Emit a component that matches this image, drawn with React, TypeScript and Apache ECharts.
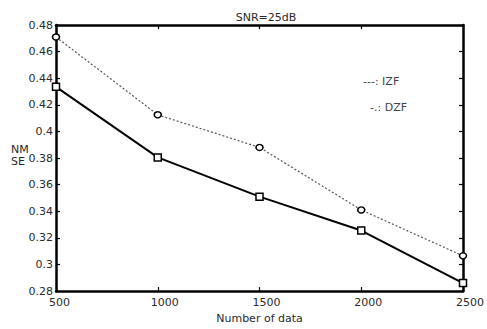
import React, { useEffect, useRef } from "react";
import * as echarts from "echarts";

const xValues = [500, 1000, 1500, 2000, 2500];
const izf = [0.471, 0.4125, 0.388, 0.341, 0.3065];
const dzf = [0.4335, 0.3805, 0.351, 0.3255, 0.286];
const titleText = "SNR=25dB";
const xName = "Number of data";
const yName = "NM\nSE";
const legendLines = ["---: IZF", "-.: DZF"];

const FONT = "DejaVu Sans";
const TXT = "#2a2a2a";

export default function App() {
  const ref = useRef<HTMLDivElement>(null);
  useEffect(() => {
    if (!ref.current) return;
    const chart = echarts.init(ref.current, undefined, { renderer: "svg" });
    const axisLine = { show: true, lineStyle: { color: "#000", width: 2.5 } };
    const tick = { show: true, inside: true, length: 4, lineStyle: { color: "#000", width: 1.2 } };
    chart.setOption({
      animation: false,
      backgroundColor: "#fff",
      title: {
        text: titleText,
        left: 261,
        top: 7,
        textAlign: "center",
        textStyle: { fontFamily: FONT, fontSize: 11, fontWeight: "normal", color: TXT },
      },
      grid: { left: 56, right: 21, top: 25, bottom: 33 },
      xAxis: [
        {
          type: "value",
          min: 500,
          max: 2500,
          interval: 500,
          position: "bottom",
          axisLine,
          axisTick: tick,
          splitLine: { show: false },
          axisLabel: {
            fontFamily: FONT,
            fontSize: 11,
            color: TXT,
            margin: 6,
            align: "left",
            padding: [0, 0, 0, -7],
            formatter: (v: number) => String(v),
          },
          name: xName,
          nameLocation: "middle",
          nameGap: 20,
          nameTextStyle: { fontFamily: FONT, fontSize: 11, color: TXT },
        },
        {
          type: "value",
          min: 500,
          max: 2500,
          interval: 500,
          position: "top",
          axisLine,
          axisTick: tick,
          splitLine: { show: false },
          axisLabel: { show: false },
        },
      ],
      yAxis: [
        {
          type: "value",
          min: 0.28,
          max: 0.48,
          interval: 0.02,
          position: "left",
          axisLine,
          axisTick: tick,
          splitLine: { show: false },
          axisLabel: {
            fontFamily: FONT,
            fontSize: 11,
            color: TXT,
            margin: 3,
            formatter: (v: number) => String(Number(v.toFixed(2))),
          },
        },
        {
          type: "value",
          min: 0.28,
          max: 0.48,
          interval: 0.02,
          position: "right",
          axisLine,
          axisTick: tick,
          splitLine: { show: false },
          axisLabel: { show: false },
        },
      ],
      graphic: [
        {
          type: "text",
          left: 11,
          top: 143,
          style: { text: yName, fontFamily: FONT, fontSize: 11, fill: TXT, lineHeight: 12 },
        },
        {
          type: "text",
          left: 363,
          top: 76,
          style: { text: legendLines[0], fontFamily: FONT, fontSize: 11, fill: "#444" },
        },
        {
          type: "text",
          left: 370,
          top: 102,
          style: { text: legendLines[1], fontFamily: FONT, fontSize: 11, fill: "#444" },
        },
      ],
      series: [
        {
          name: "IZF",
          type: "line",
          data: xValues.map((x, i) => [x, izf[i]]),
          symbol: "circle",
          symbolSize: [7, 6],
          showAllSymbol: true,
          clip: false,
          lineStyle: { color: "#555", width: 1.2, type: [2, 2] },
          itemStyle: { color: "#fff", borderColor: "#000", borderWidth: 1.5 },
          z: 3,
        },
        {
          name: "DZF",
          type: "line",
          data: xValues.map((x, i) => [x, dzf[i]]),
          symbol: "rect",
          symbolSize: 7,
          showAllSymbol: true,
          clip: false,
          lineStyle: { color: "#000", width: 2 },
          itemStyle: { color: "#fff", borderColor: "#000", borderWidth: 1.5 },
          z: 3,
        },
      ],
    });
    return () => chart.dispose();
  }, []);
  return (
    <div
      ref={ref}
      style={{ position: "fixed", left: 0, top: 0, width: 487, height: 329 }}
    />
  );
}
